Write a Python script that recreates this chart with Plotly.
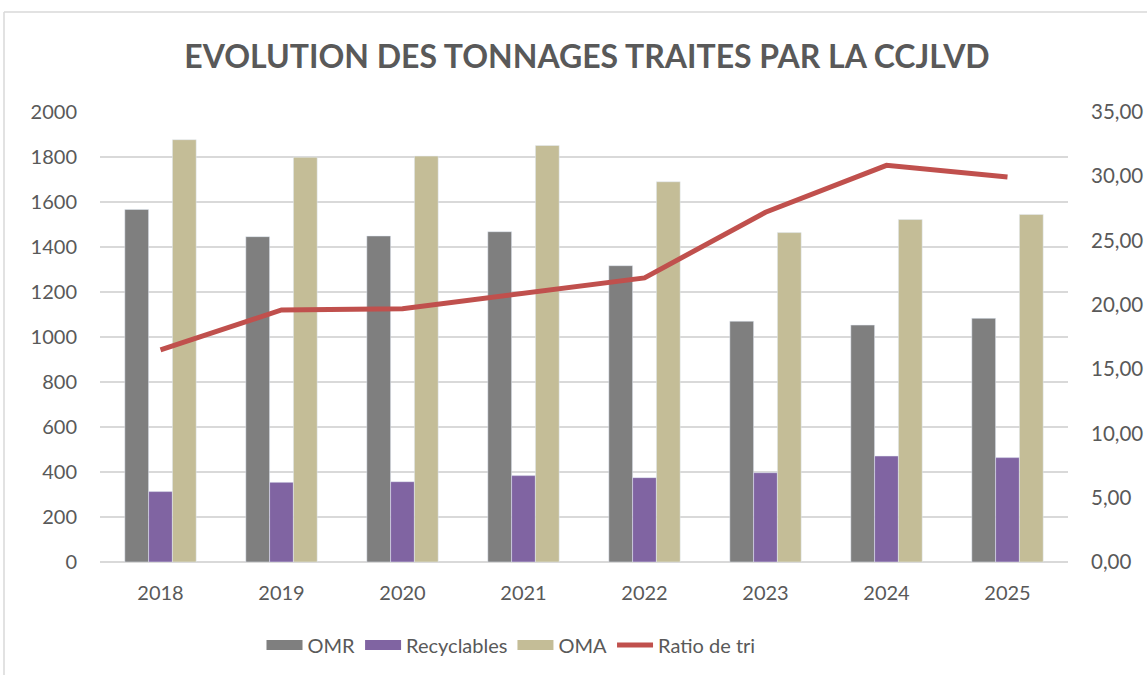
import plotly.graph_objects as go

years = ["2018", "2019", "2020", "2021", "2022", "2023", "2024", "2025"]
omr = [1567, 1446, 1449, 1468, 1317, 1070, 1053, 1083]
recyclables = [313, 354, 357, 384, 375, 397, 471, 464]
oma = [1877, 1799, 1804, 1851, 1690, 1464, 1522, 1545]
ratio_tri = [16.5, 19.6, 19.7, 20.9, 22.1, 27.2, 30.85, 29.95]

FONT = "Lato, Open Sans, sans-serif"
TXT = "#595959"
C_OMR, C_REC, C_OMA, C_RATIO = "#7F7F7F", "#8064A2", "#C4BD97", "#C0504D"

fig = go.Figure()
fig.add_trace(go.Bar(name="OMR", x=years, y=omr, marker_color=C_OMR,
                     legendgroup="omr", showlegend=False))
fig.add_trace(go.Bar(name="Recyclables", x=years, y=recyclables, marker_color=C_REC,
                     legendgroup="rec", showlegend=False))
fig.add_trace(go.Bar(name="OMA", x=years, y=oma, marker_color=C_OMA,
                     legendgroup="oma", showlegend=False))
fig.add_trace(go.Scatter(name="Ratio de tri", x=years, y=ratio_tri, yaxis="y2",
                         mode="lines", line=dict(color=C_RATIO, width=5),
                         legendgroup="ratio", showlegend=False))

# legend proxies (wide swatches like the original)
for name, col, grp, w in [("OMR", C_OMR, "omr", 10), ("Recyclables", C_REC, "rec", 10),
                          ("OMA", C_OMA, "oma", 10), ("Ratio de tri", C_RATIO, "ratio", 5)]:
    fig.add_trace(go.Scatter(name=name, x=[None], y=[None], mode="lines",
                             line=dict(color=col, width=w), legendgroup=grp,
                             showlegend=True, hoverinfo="skip"))

fig.update_layout(
    width=1147, height=675,
    margin=dict(l=100, r=79, t=112, b=113, autoexpand=False),
    paper_bgcolor="white", plot_bgcolor="white",
    separators=",.",
    barmode="group", bargap=0.41, bargroupgap=0,
    font=dict(family=FONT, color=TXT, size=20),
    title=dict(text="<b>EVOLUTION DES TONNAGES TRAITES PAR LA CCJLVD</b>",
               x=587 / 1147, xanchor="center", y=1 - 57 / 675, yanchor="middle",
               font=dict(family=FONT, size=32, color=TXT)),
    xaxis=dict(type="category", showgrid=False, showline=False, ticks="",
               tickfont=dict(size=20), ticklabelstandoff=17, automargin=False),
    yaxis=dict(range=[0, 2000], dtick=200, tickformat="d", showgrid=True,
               gridcolor="#D9D9D9", gridwidth=1.5, zeroline=True, zerolinecolor="#D9D9D9",
               zerolinewidth=1.5, showline=False, ticks="", tickfont=dict(size=20),
               ticklabelstandoff=22, automargin=False),
    yaxis2=dict(range=[0, 35], dtick=5, tickformat=".2f", overlaying="y", side="right",
                showgrid=False, zeroline=False, showline=False, ticks="",
                tickfont=dict(size=20.5), ticklabelstandoff=22, automargin=False),
    legend=dict(orientation="h", x=(511 - 100) / 968, xanchor="center",
                y=-(645 - 562) / 450, yanchor="middle",
                font=dict(size=20), itemwidth=36, tracegroupgap=0),
    shapes=[
        dict(type="line", xref="paper", yref="paper", x0=-96 / 968, x1=1.3,
             y0=1 + 100 / 450, y1=1 + 100 / 450, line=dict(color="#D9D9D9", width=1.5)),
        dict(type="line", xref="paper", yref="paper", x0=-96 / 968, x1=-96 / 968,
             y0=1 + 100 / 450, y1=-0.5, line=dict(color="#D9D9D9", width=1.5)),
    ],
)

fig.write_html("out.html", config={"displayModeBar": False},
               post_script="document.body.style.margin='0px';")
